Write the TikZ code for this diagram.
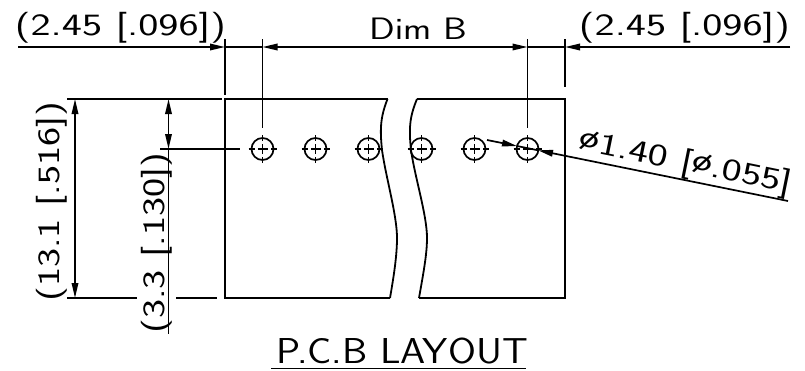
\documentclass[tikz,border=0pt]{standalone}
\usepackage{graphicx}
\usetikzlibrary{arrows.meta}
\usetikzlibrary{positioning}
\tikzstyle{hole} = [circle, minimum size=22pt, inner sep=0pt, draw=black, line width=1.7pt]
\tikzstyle{outline} = [line width=1.8pt, draw=black]
\tikzstyle{dimline} = [line width=1.7pt, draw=black]
\tikzstyle{arrow} = [dimline, -{Stealth[length=15pt,width=6.5pt,inset=0pt]}]
\tikzstyle{twoarrow} = [dimline, {Stealth[length=15pt,width=6.5pt,inset=0pt]}-{Stealth[length=15pt,width=6.5pt,inset=0pt]}]
\tikzstyle{dimtext} = [inner sep=0pt, anchor=base, font=\sffamily\fontsize{31}{31}\selectfont]
\newcommand{\cadtext}[2][1.38]{\scalebox{#1}[1]{#2}}

\begin{document}
\begin{tikzpicture}[x=1pt, y=-1pt, node distance=53pt]
        \useasboundingbox (0,0) rectangle (805,370);

        % holes
        \node (hole1) [hole] at (262.5,149) {};
        \node (hole2) [hole, right of=hole1] {};
        \node (hole3) [hole, right of=hole2] {};
        \node (hole4) [hole, right of=hole3] {};
        \node (hole5) [hole, right of=hole4] {};
        \node (hole6) [hole, right of=hole5] {};
        \foreach \i in {1,...,6} {
            \draw [dimline] ([yshift=14pt]hole\i.center) -- ([yshift=8pt]hole\i.center);
            \draw [dimline] ([yshift=-14pt]hole\i.center) -- ([yshift=-8pt]hole\i.center);
            \draw [dimline] ([xshift=14pt]hole\i.center) -- ([xshift=8pt]hole\i.center);
            \draw [dimline] ([xshift=-14pt]hole\i.center) -- ([xshift=-8pt]hole\i.center);
            \draw [dimline] ([yshift=5pt]hole\i.center) -- ([yshift=-5pt]hole\i.center);
            \draw [dimline] ([xshift=5pt]hole\i.center) -- ([xshift=-5pt]hole\i.center);
        }

        % board
        \draw [outline] (387.5,99) -- (225,99) -- (225,298) -- (390,298);
        \draw [outline] (417,99) -- (565,99) -- (565,298) -- (419,298);
        \draw [outline] (387.5,99) .. controls (380,118) and (380,130) .. (382,150) .. controls (386,178) and (397,215) .. (397,238) .. controls (397,255) and (394,275) .. (390,298);
        \draw [outline] (417,99) .. controls (409,118) and (409,130) .. (411,150) .. controls (415,178) and (427,215) .. (427,238) .. controls (427,255) and (423,275) .. (419,298);

        % extension lines
        \draw [dimline] (225,39) -- (225,95);
        \draw [dimline] (hole1.center |- 0,39) -- (262.5,128);
        \draw [dimline] (hole6.center |- 0,39) -- (527.5,128);
        \draw [dimline] (565,39) -- (565,87);
        \draw [outline] (67,99) -- (222,99);
        \draw [outline] (67,298) -- (137,298);
        \draw [outline] (176,298) -- (217,298);
        \draw [dimline] (160,149) -- (240,149);

        % dimensions
        \coordinate (pinleft) at (262.5,47);
        \coordinate (pinright) at (527.5,47);
        \draw [arrow] (18,47) -- (225,47);
        \draw [dimline] (225,47) -- (pinleft);
        \draw [twoarrow] (pinleft) -- (pinright);
        \draw [dimline] (pinright) -- (565,47);
        \draw [arrow] (790,47) -- (565,47);
        \draw [twoarrow] (75,99) -- (75,298);
        \draw [twoarrow] (168.5,99) -- (168.5,149);
        \draw [dimline] (168.5,149) -- (168.5,334);

        % diameter leader
        \coordinate (leadstart) at (487,140);
        \coordinate (leadend) at (788,201);
        \draw [arrow] (leadstart) -- (517,146);
        \draw [dimline] (517,146) -- (538,150.3);
        \draw [arrow] (leadend) -- (538,150.3);

        % labels
        \node (leftdim) [dimtext] at (120.5,35) {\cadtext{(2.45 [.096])}};
        \node (rightdim) [dimtext] at (684.5,35) {\cadtext{(2.45 [.096])}};
        \node (dimb) [dimtext] at (418,39) {\cadtext[1.22]{Dim B}};
        \node (heightdim) [dimtext, rotate=90] at (59,201.5) {\cadtext[1.31]{(13.1 [.516])}};
        \node (rowdim) [dimtext, rotate=90] at (164,243) {\cadtext[1.31]{(3.3 [.130])}};
        \node (holedim) [dimtext, rotate=-11.46] at (684,171) {\cadtext[1.36]{\raisebox{4pt}{ø}1.40 [\raisebox{4pt}{ø}.055]}};
        \node (title) [dimtext] at (402,363) {\cadtext[1.12]{\fontsize{36}{36}\selectfont P.C.B LAYOUT}};
        \coordinate (titleleft) at (271,368.5);
        \coordinate (titleright) at (526,368.5);
        \draw [dimline] (titleleft) -- (titleright);
    \end{tikzpicture}
\end{document}
